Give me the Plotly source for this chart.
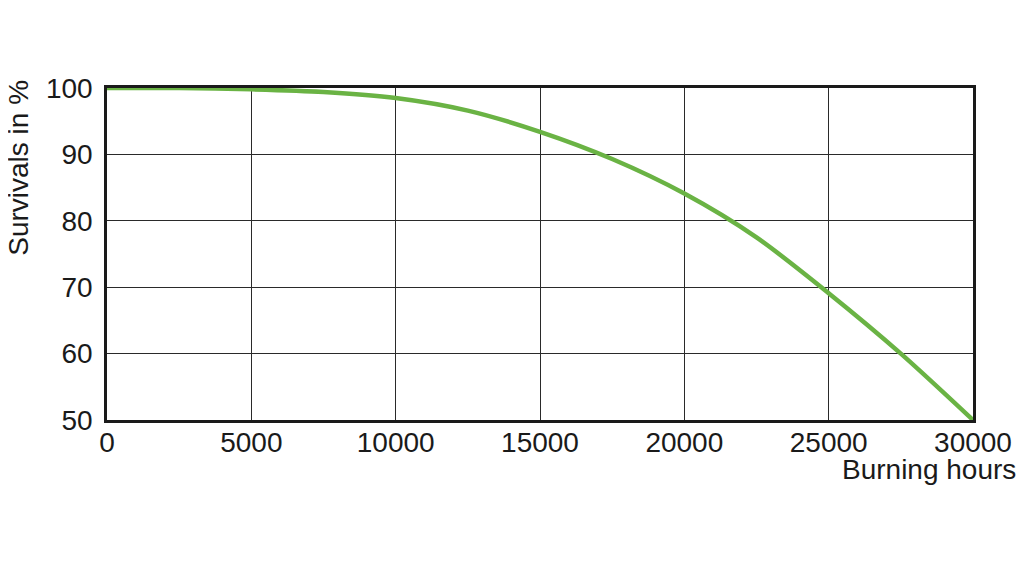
import plotly.graph_objects as go

hours = [0, 2500, 5000, 7500, 10000, 12500, 15000, 17500, 20000, 22500, 25000, 27500, 30000]
survivals = [100, 100, 99.8, 99.4, 98.5, 96.6, 93.4, 89.3, 84.1, 77.5, 69.1, 60.0, 50]
x_ticks = [0, 5000, 10000, 15000, 20000, 25000, 30000]
y_ticks = [50, 60, 70, 80, 90, 100]

fig = go.Figure()
fig.add_trace(go.Scatter(
    x=hours, y=survivals, mode="lines",
    line=dict(color="#6ab344", width=4.5, shape="spline", smoothing=0.8),
    showlegend=False, cliponaxis=False,
))

font = dict(family="Liberation Sans, Arial, sans-serif", size=28, color="#1a1a1a")

fig.update_layout(
    width=1016, height=569,
    margin=dict(l=99, r=49, t=80, b=157),
    paper_bgcolor="white", plot_bgcolor="white",
    font=font,
    xaxis=dict(range=[0, 30000], tickvals=x_ticks, ticktext=[str(v) for v in x_ticks],
               showgrid=True, gridcolor="#2a2a2a", gridwidth=1.4,
               showline=True, linecolor="#1a1a1a", linewidth=2.5, mirror=True,
               zeroline=False, ticks="", ticklabelstandoff=-4, tickfont=font),
    yaxis=dict(range=[50, 100], tickvals=y_ticks, ticktext=[str(v) for v in y_ticks],
               showgrid=True, gridcolor="#2a2a2a", gridwidth=1.4,
               showline=True, linecolor="#1a1a1a", linewidth=2.5, mirror=True,
               zeroline=False, ticks="", ticklabelstandoff=6, tickfont=font),
    annotations=[
        dict(text="Survivals in %", xref="paper", yref="paper", x=-0.1025, y=0.7605,
             xanchor="center", yanchor="middle", textangle=-90, showarrow=False, font=font),
        dict(text="Burning hours", xref="paper", yref="paper", x=1.0518, y=-0.1506,
             xanchor="right", yanchor="middle", showarrow=False, font=font),
    ],
)

fig.write_html("out.html")
